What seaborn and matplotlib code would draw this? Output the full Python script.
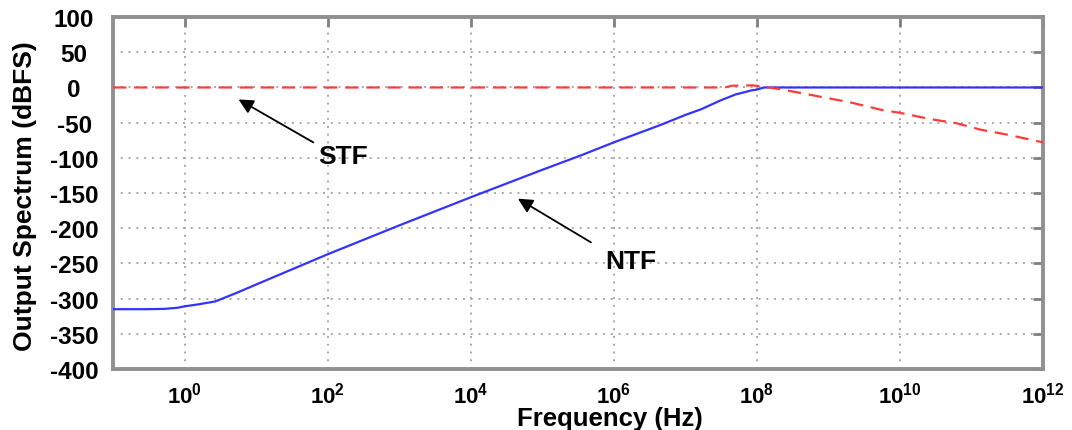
import numpy as np
import pandas as pd
import matplotlib
matplotlib.use("Agg")
import matplotlib.pyplot as plt
import seaborn as sns

# Noise transfer function (NTF): log10(frequency) and magnitude in dBFS
ntf_exp = [-1.0, -0.5, -0.27, -0.1, 0.0, 0.2, 0.43, 0.7, 1.0, 2.0, 3.0, 4.0, 5.0,
           5.54, 6.0, 6.66, 7.0, 7.22, 7.5, 7.7, 7.93, 8.0, 8.1, 12.0]
ntf_db = [-315, -315, -314.5, -313, -311, -308, -304, -293, -280, -237, -196, -156, -117,
          -96.5, -78, -53, -39, -31, -18, -10, -4, -3, 0, 0]

# Signal transfer function (STF)
stf_exp = [-1.0, 7.55, 7.65, 7.95, 8.1, 8.3, 8.6, 8.93, 9.3, 9.75, 10.0,
           10.43, 10.8, 11.13, 11.5, 11.82, 12.0]
stf_db = [0, 0, 2.5, 3, 1, -2, -7.5, -14, -21, -32, -36,
          -45, -51, -60, -67, -74, -78]

x_tick_exp = [0, 2, 4, 6, 8, 10, 12]
x_tick_labels = ["10$^{0}$", "10$^{2}$", "10$^{4}$", "10$^{6}$",
                 "10$^{8}$", "10$^{10}$", "10$^{12}$"]
y_ticks = [100, 50, 0, -50, -100, -150, -200, -250, -300, -350, -400]

sns.set_style("white")
plt.rcParams["font.family"] = ["Liberation Sans", "DejaVu Sans"]
plt.rcParams["font.weight"] = "bold"
plt.rcParams["text.color"] = "black"
plt.rcParams["axes.labelcolor"] = "black"
plt.rcParams["mathtext.fontset"] = "custom"
plt.rcParams["mathtext.rm"] = "Liberation Sans:bold"
plt.rcParams["mathtext.it"] = "Liberation Sans:bold"
plt.rcParams["mathtext.bf"] = "Liberation Sans:bold"

ntf = pd.DataFrame({"freq": np.power(10.0, ntf_exp), "db": ntf_db})
stf = pd.DataFrame({"freq": np.power(10.0, stf_exp), "db": stf_db})

fig = plt.figure(figsize=(10.72, 4.31), dpi=100)
ax = fig.add_axes([0.1054, 0.1415, 0.8676, 0.8165])
ax.set_xscale("log")

sns.lineplot(data=ntf, x="freq", y="db", ax=ax, color="#3333ff", lw=1.6,
             sort=False, zorder=3)
sns.lineplot(data=stf, x="freq", y="db", ax=ax, color="#ff3b3b", lw=1.6,
             sort=False, zorder=4, linestyle=(0, (6, 3.5)))

ax.set_xlim(1e-1, 1e12)
ax.set_ylim(-400, 100)

xt = np.power(10.0, x_tick_exp)
ax.set_xticks(xt)
ax.set_xticklabels(x_tick_labels)
ax.xaxis.set_minor_locator(matplotlib.ticker.NullLocator())
ax.set_yticks(y_ticks)
ax.set_yticklabels([str(v) for v in y_ticks])

ax.grid(True, which="major", color="#a8a8a8", linestyle=(0, (1, 3)), lw=1.4)

for s in ax.spines.values():
    s.set_color("#909090")
    s.set_linewidth(2.8)

ax.tick_params(axis="both", which="major", direction="in", length=7, width=2,
               color="#808080", labelcolor="black", top=True, right=True)
ax.tick_params(axis="x", labelsize=16, pad=9)
ax.tick_params(axis="y", labelsize=17.5, pad=28)
for lbl in ax.get_xticklabels():
    lbl.set_fontweight("bold")
for lbl in ax.get_yticklabels():
    lbl.set_fontweight("bold")
    lbl.set_horizontalalignment("center")

ax.set_xlabel("Frequency (Hz)", fontsize=18.5, fontweight="bold")
ax.xaxis.set_label_coords(0.534, -0.104)
ax.set_ylabel("Output Spectrum (dBFS)", fontsize=19, fontweight="bold")
ax.yaxis.label.set_verticalalignment("center")
ax.yaxis.set_label_coords(-0.0946, 0.493)

arrow = dict(arrowstyle="-|>", color="black", lw=1.3, mutation_scale=22,
             shrinkA=0, shrinkB=0)
ax.annotate("", xy=(10 ** 0.755, -17), xytext=(10 ** 1.80, -78),
            arrowprops=arrow, zorder=5)
ax.text(10 ** 2.21, -98, "STF", fontsize=19, fontweight="bold",
        ha="center", va="center")
ax.annotate("", xy=(10 ** 4.66, -158), xytext=(10 ** 5.68, -220),
            arrowprops=arrow, zorder=5)
ax.text(10 ** 6.24, -247, "NTF", fontsize=19, fontweight="bold",
        ha="center", va="center")

fig.savefig("out.png", dpi=100)
